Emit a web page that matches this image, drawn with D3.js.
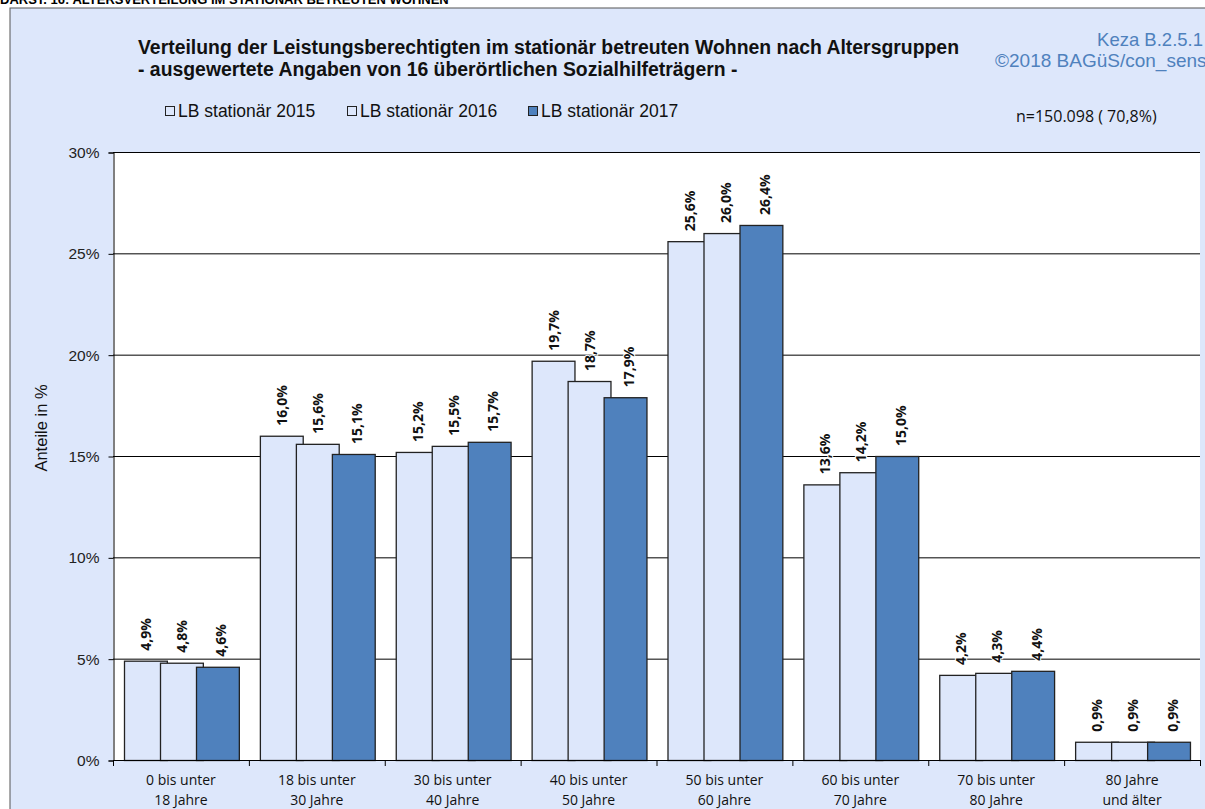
<!DOCTYPE html>
<html>
<head>
<meta charset="utf-8">
<script src="https://cdn.jsdelivr.net/npm/d3@7"></script>
<style>
  body { margin: 0; background: #fff; overflow: hidden; }
  svg { display: block; }
</style>
</head>
<body>
<svg width="1205" height="809"></svg>
<script>
// age groups, two label lines each
var categories = ["0 bis unter|18 Jahre", "18 bis unter|30 Jahre", "30 bis unter|40 Jahre", "40 bis unter|50 Jahre",
  "50 bis unter|60 Jahre", "60 bis unter|70 Jahre", "70 bis unter|80 Jahre", "80 Jahre|und älter"];
var seriesNames = ["LB stationär 2015", "LB stationär 2016", "LB stationär 2017"];
var values2015 = [4.9, 16.0, 15.2, 19.7, 25.6, 13.6, 4.2, 0.9];
var values2016 = [4.8, 15.6, 15.5, 18.7, 26.0, 14.2, 4.3, 0.9];
var values2017 = [4.6, 15.1, 15.7, 17.9, 26.4, 15.0, 4.4, 0.9];
var yTicks = [0, 5, 10, 15, 20, 25, 30];

var allValues = [values2015, values2016, values2017];
var colors = ["#dde7fb", "#dde7fb", "#4f81bd"];
var bg = "#dde7fb";

var svg = d3.select("svg"),
    plot = {left: 113, right: 1200, top: 152, bottom: 760};

// outer frame
svg.append("rect")
  .attr("x", 10).attr("y", 8)
  .attr("width", 1300).attr("height", 900)
  .attr("fill", bg)
  .attr("stroke", "#555").attr("stroke-width", 1);

// header, cut at the top as in the original
svg.append("text")
  .attr("x", 0).attr("y", 4)
  .attr("font-family", "Arial, 'Liberation Sans'")
  .attr("font-weight", "bold").attr("font-size", 13)
  .text("DARST. 16: ALTERSVERTEILUNG IM STATIONÄR BETREUTEN WOHNEN");

// title
var title = svg.append("text")
  .attr("font-family", "Arial, 'Liberation Sans'")
  .attr("font-weight", "bold").attr("font-size", 19.4)
  .attr("fill", "#111");
title.append("tspan").attr("x", 138).attr("y", 54)
  .text("Verteilung der Leistungsberechtigten im stationär betreuten Wohnen nach Altersgruppen");
title.append("tspan").attr("x", 138).attr("y", 76)
  .text("- ausgewertete Angaben von 16 überörtlichen Sozialhilfeträgern -");

svg.append("text")
  .attr("x", 1203).attr("y", 46)
  .attr("text-anchor", "end")
  .attr("font-family", "Arial, 'Liberation Sans'").attr("font-size", 18.5)
  .attr("fill", "#4f81bd")
  .text("Keza B.2.5.1");
svg.append("text")
  .attr("x", 995).attr("y", 67)
  .attr("font-family", "Arial, 'Liberation Sans'").attr("font-size", 19)
  .attr("fill", "#4f81bd")
  .text("©2018 BAGüS/con_sens");

svg.append("text")
  .attr("x", 1016).attr("y", 122)
  .attr("font-family", "'Open Sans', Calibri, sans-serif").attr("font-size", 16)
  .attr("fill", "#111")
  .text("n=150.098 ( 70,8%)");

// legend
var legendX = [165, 347, 528];
var legend = svg.append("g")
  .selectAll("g")
  .data(seriesNames)
  .enter().append("g")
  .attr("transform", function(d, i) { return "translate(" + legendX[i] + ",111)"; });

legend.append("rect")
  .attr("x", 0.5).attr("y", -4.5)
  .attr("width", 9).attr("height", 9)
  .attr("fill", function(d, i) { return colors[i]; })
  .attr("stroke", "#222").attr("stroke-width", 1);

legend.append("text")
  .attr("x", 13).attr("y", 0)
  .attr("dy", "0.35em")
  .attr("font-family", "Arial, 'Liberation Sans'").attr("font-size", 17.5)
  .attr("fill", "#111")
  .text(function(d) { return d; });

// plot area
svg.append("rect")
  .attr("x", plot.left).attr("y", plot.top)
  .attr("width", plot.right - plot.left).attr("height", plot.bottom - plot.top)
  .attr("fill", "#fff");

var x0 = d3.scaleBand()
  .domain(categories)
  .range([plot.left, plot.right])
  .paddingInner(0);

var x1 = d3.scaleBand()
  .domain(seriesNames)
  .range([11, 119]);

var barW = x1.bandwidth() * 1.19;

var y = d3.scaleLinear()
  .domain([0, 30])
  .range([plot.bottom, plot.top]);

// gridlines
svg.append("g")
  .selectAll("line")
  .data(yTicks.slice(1))
  .enter().append("line")
  .attr("x1", plot.left).attr("x2", plot.right)
  .attr("y1", function(d) { return y(d) + 0.5; })
  .attr("y2", function(d) { return y(d) + 0.5; })
  .attr("stroke", "#000").attr("stroke-width", 1);

// y axis
var yAxis = svg.append("g")
  .attr("transform", "translate(" + (plot.left + 0.5) + ",0.5)")
  .call(d3.axisLeft(y).tickValues(yTicks).tickSize(5).tickPadding(9)
    .tickFormat(function(d) { return d + "%"; }));
yAxis.select(".domain").attr("stroke", "#000");
yAxis.selectAll("text")
  .attr("font-family", "Arial, 'Liberation Sans'").attr("font-size", 15.5).attr("fill", "#222");

svg.append("text")
  .attr("transform", "translate(47,428) rotate(-90)")
  .attr("text-anchor", "middle")
  .attr("font-family", "Arial, 'Liberation Sans'").attr("font-size", 16.5)
  .attr("fill", "#111")
  .text("Anteile in %");

// bars
var groups = svg.append("g")
  .selectAll("g")
  .data(categories)
  .enter().append("g")
  .attr("transform", function(d) { return "translate(" + x0(d) + ",0)"; });

var bars = groups.selectAll("g")
  .data(function(d, ci) {
    return seriesNames.map(function(s, si) { return {key: s, si: si, value: allValues[si][ci]}; });
  })
  .enter().append("g");

bars.append("rect")
  .attr("x", function(d) { return x1(d.key) + 0.5; })
  .attr("y", function(d) { return y(d.value) + 0.5; })
  .attr("width", barW)
  .attr("height", function(d) { return plot.bottom - y(d.value); })
  .attr("fill", function(d) { return colors[d.si]; })
  .attr("stroke", "#222").attr("stroke-width", 1.3);

// value labels, centred over the visible part of each bar
bars.append("text")
  .attr("transform", function(d) {
    var cx = x1(d.key) + (d.si < 2 ? x1.bandwidth() / 2 : barW / 2);
    return "translate(" + (cx + 9) + "," + (y(d.value) - 10) + ") rotate(-90)";
  })
  .attr("font-family", "'Open Sans', Calibri, sans-serif")
  .attr("font-weight", "bold").attr("font-size", 14)
  .attr("fill", "#111")
  .attr("stroke", "#fff").attr("stroke-width", 2).attr("paint-order", "stroke")
  .text(function(d) { return d.value.toFixed(1).replace(".", ",") + "%"; });

// x axis
svg.append("line")
  .attr("x1", plot.left).attr("x2", plot.right)
  .attr("y1", plot.bottom + 0.5).attr("y2", plot.bottom + 0.5)
  .attr("stroke", "#000");

svg.append("g")
  .selectAll("line")
  .data(categories.concat(["end"]))
  .enter().append("line")
  .attr("x1", function(d, i) { return (i < categories.length ? x0(d) : plot.right) + 0.5; })
  .attr("x2", function(d, i) { return (i < categories.length ? x0(d) : plot.right) + 0.5; })
  .attr("y1", plot.bottom).attr("y2", plot.bottom + 6)
  .attr("stroke", "#000");

var catLabels = svg.append("g")
  .selectAll("text")
  .data(categories)
  .enter().append("text")
  .attr("text-anchor", "middle")
  .attr("font-family", "'Open Sans', Calibri, sans-serif").attr("font-size", 14)
  .attr("fill", "#111");

catLabels.selectAll("tspan")
  .data(function(d) { return d.split("|").map(function(t) { return {t: t, c: d}; }); })
  .enter().append("tspan")
  .attr("x", function(d) { return x0(d.c) + x0.bandwidth() / 2; })
  .attr("y", function(d, i) { return 785 + i * 20; })
  .text(function(d) { return d.t; });
</script>
</body>
</html>
